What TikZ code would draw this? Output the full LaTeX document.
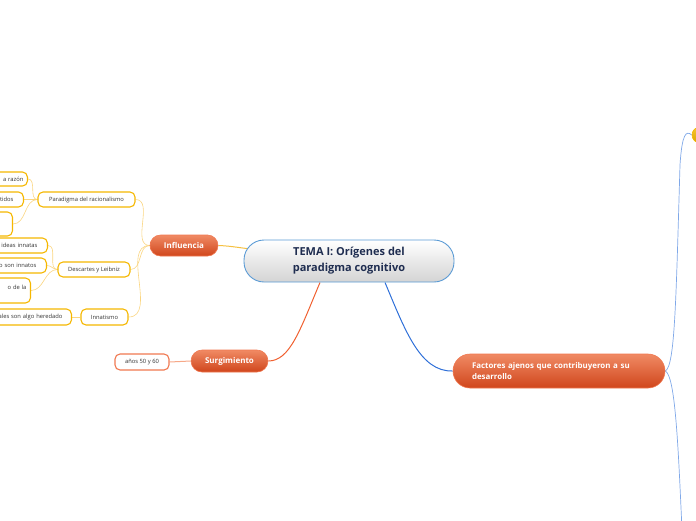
\documentclass[tikz,border=0pt]{standalone}
\usepackage{fontspec}
\setmainfont{Open Sans}
\usetikzlibrary{backgrounds,calc}
\definecolor{navy}{HTML}{1F2D50}
\definecolor{bluebd}{HTML}{5B9BD5}
\definecolor{blueln}{HTML}{2E6FD8}
\definecolor{bluelt}{HTML}{7FA8E8}
\definecolor{redtop}{HTML}{F08A64}
\definecolor{redbot}{HTML}{D0461C}
\definecolor{redbd}{HTML}{F07850}
\definecolor{redln}{HTML}{F06030}
\definecolor{salmon}{HTML}{F6A888}
\definecolor{gold}{HTML}{F5B700}
\definecolor{goldln}{HTML}{F5C040}
\definecolor{goldlt}{HTML}{FAD580}
\definecolor{txt}{HTML}{333333}
\tikzset{
  centralbox/.style={draw=bluebd, line width=0.9pt, top color=white, bottom color=black!17,
    rounded corners=20pt, minimum width=210pt, minimum height=42pt, inner sep=0pt,
    align=center, text=navy, font=\fontsize{11}{16}\selectfont\bfseries},
  topicbox/.style={draw=redbd, line width=0.6pt, top color=redtop, bottom color=redbot,
    text=white, inner sep=0pt, font=\fontsize{8}{10}\selectfont\bfseries},
  subbox/.style={draw=gold, line width=1.1pt, fill=white, rounded corners=5pt,
    inner sep=0pt, text=txt, font=\fontsize{5.8}{7}\selectfont},
  leafbox/.style={subbox, anchor=east, inner ysep=0pt, align=right, text width=70pt},
  goldthin/.style={draw=goldlt, line width=0.6pt},
  bluethin/.style={draw=bluelt, line width=0.7pt},
}
\begin{document}
\begin{tikzpicture}[x=1pt,y=-1pt]
\useasboundingbox (0,0) rectangle (696,520);
\coordinate (bot) at (682,530);
% nodes
\node[centralbox] (central) at (349,261) {TEMA I: Orígenes del\\paradigma cognitivo};
\node[topicbox, rounded corners=10.5pt, minimum width=68pt, minimum height=21pt] (infl) at (184,245.5) {Influencia};
\node[topicbox, rounded corners=11pt, minimum width=77pt, minimum height=22pt] (surg) at (229.5,361) {Surgimiento};
\node[topicbox, rounded corners=17pt, minimum height=34pt, text width=174pt, inner xsep=19pt, align=left,
      font=\fontsize{7.9}{11}\selectfont\bfseries] (fact) at (559,371) {Factores ajenos que contribuyeron a su\\desarrollo};
\node[draw=gold, line width=0.6pt, top color=gold!80!white, bottom color=gold!90!black, rounded corners=8pt,
      minimum width=48pt, minimum height=16pt, inner sep=0pt] (top) at (716,135) {};

\node[subbox, minimum width=97pt, minimum height=15pt] (parad) at (86.5,199.5) {Paradigma del racionalismo};
\node[subbox, minimum width=72pt, minimum height=15pt] (desc) at (94,269.5) {Descartes y Leibniz};
\node[subbox, minimum width=47pt, minimum height=16pt] (inna) at (104.5,317) {Innatismo};
\node[subbox, draw=redbd, minimum width=54pt, minimum height=16pt] (anos) at (142,362) {años 50 y 60};

\node[leafbox, inner xsep=4pt, minimum height=14pt] (l1) at (28,179) {a razón};
\node[leafbox, inner xsep=10pt, minimum height=15pt] (l2) at (24,199.5) {tidos};
\node[leafbox, inner xsep=4pt, minimum height=24pt] (l3) at (13,224) {};
\node[leafbox, inner xsep=10pt, minimum height=15pt] (l4) at (48,245.5) {ideas innatas};
\node[leafbox, inner xsep=10pt, minimum height=15pt] (l5) at (47,265.5) {o son innatos};
\node[leafbox, inner xsep=4pt, minimum height=25pt] (l6) at (31,290.5) {o de la\\\mbox{}};
\node[leafbox, inner xsep=9pt, minimum height=16pt] (l7) at (72,317) {ales son algo heredado};

% connectors
\begin{scope}[on background layer]
\draw[goldln, line width=1pt] (infl.east) .. controls (232,246) and (240,248) .. ($(central.west)+(8,-12)$);
\draw[goldthin] (infl.west) to[out=180,in=0] (parad.east);
\draw[goldthin] (infl.west) to[out=180,in=0] (desc.east);
\draw[goldthin] (infl.west) to[out=180,in=0] (inna.east);
\draw[goldthin] (parad.west) to[out=180,in=0] (l1.east);
\draw[goldthin] (parad.west) to[out=180,in=0] (l2.east);
\draw[goldthin] (parad.west) to[out=180,in=0] (l3.east);
\draw[goldthin] (desc.west) to[out=180,in=0] (l4.east);
\draw[goldthin] (desc.west) to[out=180,in=0] (l5.east);
\draw[goldthin] (desc.west) to[out=180,in=0] (l6.east);
\draw[goldthin] (inna.west) -- (l7.east);
\draw[redln, line width=1pt] ($(central.south)+(-29,0)$) .. controls (300,330) and (290,361) .. (surg.east);
\draw[salmon, line width=1pt] (surg.west) -- (anos.east);
\draw[blueln, line width=1pt] ($(central.south)+(36,0)$) .. controls (405,330) and (420,372) .. (fact.west);
\draw[bluethin] (fact.east) .. controls (675,366) and (676,300) .. (680,165) .. controls (682,134) and (686,130) .. (top.west);
\draw[bluethin] (fact.east) .. controls (675,376) and (678,440) .. (bot);
\end{scope}
\end{tikzpicture}
\end{document}
